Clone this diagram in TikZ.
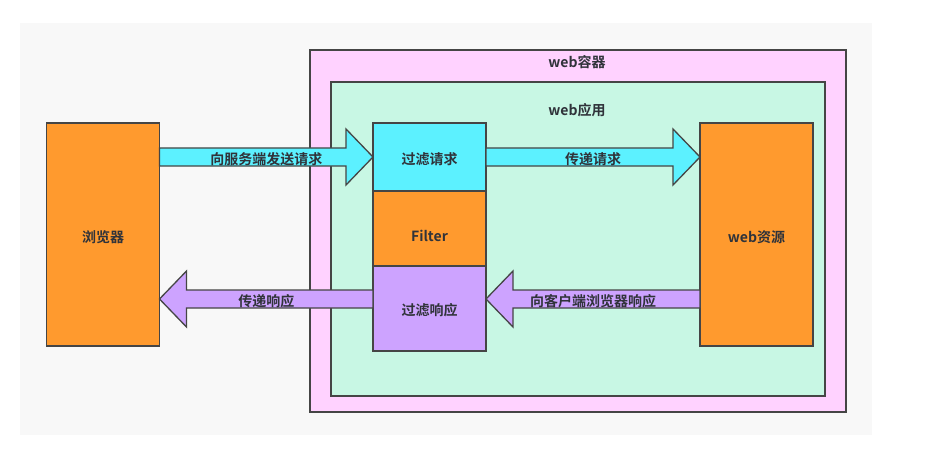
\documentclass[tikz,border=0pt]{standalone}
\usepackage{fontspec}
\setmainfont{Noto Sans CJK SC}[BoldFont={* Bold}]
\usepackage{tikz}
\usetikzlibrary{positioning,calc}

\definecolor{bggray}{HTML}{F8F8F8}
\definecolor{edge}{HTML}{454545}
\definecolor{ink}{HTML}{30333A}
\definecolor{pinkbox}{HTML}{FFD2FF}
\definecolor{mintbox}{HTML}{C8F7E4}
\definecolor{orangebox}{HTML}{FF9A2E}
\definecolor{cyanbox}{HTML}{5CF1FF}
\definecolor{purplebox}{HTML}{CDA3FF}

\tikzset{
  box/.style={draw=edge, line width=1.3pt, inner sep=0pt, outer sep=0pt,
    minimum width=113pt},
  fatline/.style={draw=edge, line width=1.3pt, line join=miter},
  lbl/.style={font=\bfseries\fontsize{14}{16}\selectfont, text=ink}
}

% block arrow from #1 to #2 (tip at #2)
\newcommand\fatarrow[3]{%
  \path ($(#2)!27pt!(#1)$) coordinate (hb);
  \draw[fatline, fill=#3] ([yshift=9pt]#1) -- ([yshift=9pt]hb) -- ([yshift=28pt]hb)
    -- (#2) -- ([yshift=-28pt]hb) -- ([yshift=-9pt]hb) -- ([yshift=-9pt]#1) -- cycle;}

\begin{document}
\begin{tikzpicture}[x=1pt, y=-1pt]
    \useasboundingbox (0,0) rectangle (937,468);
    \fill[bggray] (20,23) rectangle (872,435);

    % web container and web application
    \draw[fill=pinkbox, draw=edge, line width=1.3pt] (310,50) rectangle (846,412);
    \node[lbl] (cont) at (577,62) {web容器};
    \draw[fill=mintbox, draw=edge, line width=1.3pt] (331,82) rectangle (825,396);
    \node[lbl] (app) at (577,110) {web应用};

    % browser and resource
    \node[box, fill=orangebox, minimum height=223pt] (browser) at (103,234.5) {};
    \node[lbl] at ([yshift=-2.5pt]browser.center) {浏览器};
    \node[box, fill=orangebox, minimum height=223pt] (res) at (756.5,234.5) {};
    \node[lbl] at ([yshift=-2.5pt]res.center) {web资源};

    % filter stack
    \node[box, fill=cyanbox, minimum height=68pt] (req) at (429.5,157) {};
    \node[box, fill=orangebox, minimum height=75pt, below=0pt of req] (filt) {};
    \node[box, fill=purplebox, minimum height=85pt, below=0pt of filt] (resp) {};
    \node[lbl] at ([yshift=-2.5pt]req.center) {过滤请求};
    \node[lbl] at ([yshift=-7pt]filt.center) {Filter};
    \node[lbl] at ([yshift=-2pt]resp.center) {过滤响应};

    % arrows
    \coordinate (a1) at (browser.east |- req.west);
    \coordinate (a2) at (res.west |- req.east);
    \coordinate (b1) at ([yshift=9.5pt]resp.west);
    \coordinate (b2) at ([yshift=9.5pt]resp.east);
    \coordinate (b3) at (res.west |- b2);
    \coordinate (b4) at (browser.east |- b1);

    \fatarrow{a1}{req.west}{cyanbox}
    \node[lbl] at ($(a1)!0.5!(req.west)+(0,2.5)$) {向服务端发送请求};
    \fatarrow{req.east}{a2}{cyanbox}
    \node[lbl] at ($(req.east)!0.5!(a2)+(0,2.5)$) {传递请求};
    \fatarrow{b3}{b2}{purplebox}
    \node[lbl] at ($(b3)!0.5!(b2)+(0,2.5)$) {向客户端浏览器响应};
    \fatarrow{b1}{b4}{purplebox}
    \node[lbl] at ($(b1)!0.5!(b4)+(0,2.5)$) {传递响应};
\end{tikzpicture}
\end{document}
